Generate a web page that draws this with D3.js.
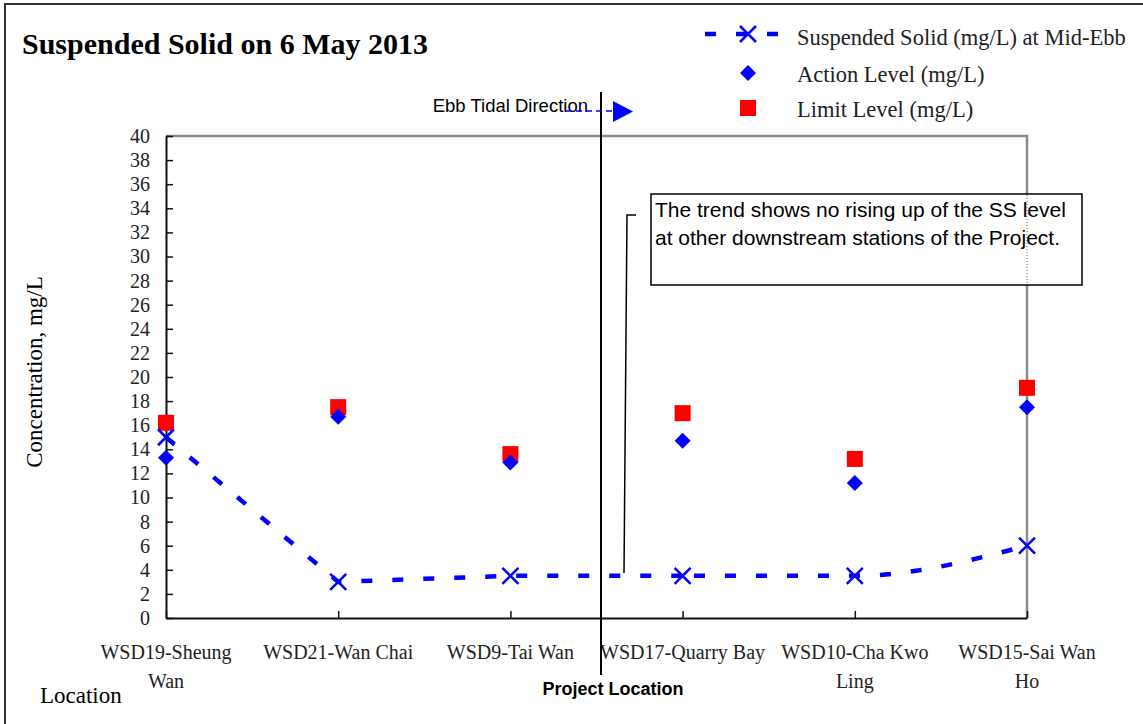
<!DOCTYPE html>
<html>
<head>
<meta charset="utf-8">
<script src="https://cdn.jsdelivr.net/npm/d3@7"></script>
<style>
  body { margin: 0; background: #fff; }
  svg { display: block; }
  .serif { font-family: "Liberation Serif", "Times New Roman", serif; }
  .sans { font-family: "Liberation Sans", Arial, sans-serif; }
</style>
</head>
<body>
<div id="chart"></div>
<script>
// data
const categories = ["WSD19-Sheung Wan", "WSD21-Wan Chai", "WSD9-Tai Wan",
                    "WSD17-Quarry Bay", "WSD10-Cha Kwo Ling", "WSD15-Sai Wan Ho"];
const catLabels = [["WSD19-Sheung", "Wan"], ["WSD21-Wan Chai"], ["WSD9-Tai Wan"],
                   ["WSD17-Quarry Bay"], ["WSD10-Cha Kwo", "Ling"], ["WSD15-Sai Wan", "Ho"]];
const ssValues = [15.0, 3.0, 3.5, 3.5, 3.5, 6.0];
const actionLevel = [13.3, 16.7, 12.9, 14.7, 11.2, 17.5];
const limitLevel = [16.2, 17.5, 13.6, 17.0, 13.2, 19.1];
const yTicks = d3.range(0, 41, 2);
const legendLabels = ["Suspended Solid (mg/L) at Mid-Ebb", "Action Level (mg/L)", "Limit Level (mg/L)"];

const W = 1143, H = 724;
const plot = {left: 166, right: 1027, top: 136, bottom: 618};

const svg = d3.select('#chart').append('svg')
  .attr('width', W)
  .attr('height', H);

// outer frame
svg.append('rect')
  .attr('x', 5).attr('y', 4)
  .attr('width', W + 20).attr('height', H + 20)
  .attr('fill', 'none')
  .attr('stroke', '#333')
  .attr('stroke-width', 2);

const x = d3.scalePoint().domain(categories).range([plot.left, plot.right]);
const y = d3.scaleLinear().domain([0, 40]).range([plot.bottom, plot.top]);

// gray top/right plot border
svg.append('path')
  .attr('d', `M${plot.left},${plot.top}H${plot.right}V${plot.bottom}`)
  .attr('fill', 'none')
  .attr('stroke', '#8c8c8c')
  .attr('stroke-width', 2.5);

// y axis
const yAxis = svg.append('g')
  .attr('transform', `translate(${plot.left},0)`)
  .call(d3.axisLeft(y).tickValues(yTicks).tickSizeInner(-7).tickSizeOuter(0).tickPadding(16));
yAxis.select('.domain').attr('stroke', '#111').attr('stroke-width', 2);
yAxis.selectAll('.tick line').attr('stroke', '#111').attr('stroke-width', 1.5);
yAxis.selectAll('.tick text')
  .attr('class', 'serif')
  .attr('font-size', 20)
  .attr('fill', '#222');

// x axis
const xAxis = svg.append('g')
  .attr('transform', `translate(0,${plot.bottom})`)
  .call(d3.axisBottom(x).tickSizeInner(-7).tickSizeOuter(0).tickFormat(''));
xAxis.select('.domain').attr('stroke', '#111').attr('stroke-width', 2);
xAxis.selectAll('.tick line').attr('stroke', '#111').attr('stroke-width', 1.5);

// category labels (wrapped)
const labelG = svg.append('g').attr('class', 'serif');
categories.forEach((c, i) => {
  const t = labelG.append('text')
    .attr('x', x(c))
    .attr('y', 659)
    .attr('text-anchor', 'middle')
    .attr('font-size', 20)
    .attr('fill', '#222');
  catLabels[i].forEach((ln, j) => {
    t.append('tspan').attr('x', x(c)).attr('dy', j === 0 ? 0 : 29).text(ln);
  });
});

// title
svg.append('text')
  .attr('class', 'serif')
  .attr('x', 22).attr('y', 54)
  .attr('font-size', 30)
  .attr('font-weight', 'bold')
  .text('Suspended Solid on 6 May 2013');

// axis titles
svg.append('text')
  .attr('class', 'serif')
  .attr('transform', 'translate(42,372) rotate(-90)')
  .attr('text-anchor', 'middle')
  .attr('font-size', 23)
  .text('Concentration, mg/L');

svg.append('text')
  .attr('class', 'serif')
  .attr('x', 40).attr('y', 703)
  .attr('font-size', 23)
  .text('Location');

// project location line
svg.append('line')
  .attr('x1', 601).attr('x2', 601)
  .attr('y1', 92).attr('y2', 675)
  .attr('stroke', '#000')
  .attr('stroke-width', 2);

svg.append('text')
  .attr('class', 'sans')
  .attr('x', 613).attr('y', 695)
  .attr('text-anchor', 'middle')
  .attr('font-size', 18)
  .attr('font-weight', 'bold')
  .text('Project Location');

// ebb tidal direction arrow
svg.append('text')
  .attr('class', 'sans')
  .attr('x', 588).attr('y', 112)
  .attr('text-anchor', 'end')
  .attr('font-size', 18.5)
  .text('Ebb Tidal Direction');

svg.append('line')
  .attr('x1', 566).attr('x2', 614)
  .attr('y1', 111).attr('y2', 111)
  .attr('stroke', '#0000ff')
  .attr('stroke-width', 1.5)
  .attr('stroke-dasharray', '6,4');

svg.append('path')
  .attr('d', 'M613,101L633,111.5L613,122Z')
  .attr('fill', '#0000ff');

// callout
svg.append('path')
  .attr('d', 'M624,573L627,215H636')
  .attr('fill', 'none')
  .attr('stroke', '#000')
  .attr('stroke-width', 1.5);

svg.append('rect')
  .attr('x', 651).attr('y', 194)
  .attr('width', 431).attr('height', 91)
  .attr('fill', '#fff')
  .attr('stroke', '#000')
  .attr('stroke-width', 1.5);

svg.append('line')
  .attr('x1', plot.right).attr('x2', plot.right)
  .attr('y1', 195).attr('y2', 284)
  .attr('stroke', '#999')
  .attr('stroke-width', 1.5)
  .attr('stroke-dasharray', '1,2');

const note = svg.append('text')
  .attr('class', 'sans')
  .attr('font-size', 21);
note.append('tspan').attr('x', 655).attr('y', 217).text('The trend shows no rising up of the SS level');
note.append('tspan').attr('x', 655).attr('y', 245).text('at other downstream stations of the Project.');

// SS line: straight through the first stations, smoothed at the end
const ssPts = ssValues.map((v, i) => [x(categories[i]), y(v)]);
const lineStraight = d3.line().curve(d3.curveLinear);
const lineSmooth = d3.line().curve(d3.curveMonotoneX);

const seg1 = svg.append('path')
  .attr('d', lineStraight(ssPts.slice(0, 4)))
  .attr('fill', 'none')
  .attr('stroke', '#0000ff')
  .attr('stroke-width', 4.5)
  .attr('stroke-dasharray', '11,20');

svg.append('path')
  .attr('d', lineSmooth(ssPts.slice(3)))
  .attr('fill', 'none')
  .attr('stroke', '#0000ff')
  .attr('stroke-width', 4.5)
  .attr('stroke-dasharray', '11,20')
  .attr('stroke-dashoffset', -seg1.node().getTotalLength());

const crossPath = 'M-8,-8L8,8M-8,8L8,-8';
const diamondPath = 'M0,-8L8,0L0,8L-8,0Z';

// limit level squares
svg.selectAll('.limit')
  .data(limitLevel)
  .enter()
  .append('rect')
  .attr('class', 'limit')
  .attr('x', (d, i) => x(categories[i]) - 8)
  .attr('y', d => y(d) - 8)
  .attr('width', 16).attr('height', 16)
  .attr('fill', '#ff0000');

// action level diamonds
svg.selectAll('.action')
  .data(actionLevel)
  .enter()
  .append('path')
  .attr('class', 'action')
  .attr('d', diamondPath)
  .attr('transform', (d, i) => `translate(${x(categories[i])},${y(d)})`)
  .attr('fill', '#0000ff');

// SS crosses
svg.selectAll('.ss')
  .data(ssValues)
  .enter()
  .append('path')
  .attr('class', 'ss')
  .attr('d', crossPath)
  .attr('transform', (d, i) => `translate(${x(categories[i])},${y(d)})`)
  .attr('fill', 'none')
  .attr('stroke', '#0000ff')
  .attr('stroke-width', 2.5);

// legend
const lg = svg.append('g');
lg.append('line')
  .attr('x1', 705).attr('x2', 778)
  .attr('y1', 34).attr('y2', 34)
  .attr('stroke', '#0000ff')
  .attr('stroke-width', 4.5)
  .attr('stroke-dasharray', '11,20');
lg.append('path')
  .attr('d', crossPath)
  .attr('transform', 'translate(748,34)')
  .attr('fill', 'none')
  .attr('stroke', '#0000ff')
  .attr('stroke-width', 2.5);
lg.append('path')
  .attr('d', diamondPath)
  .attr('transform', 'translate(748,73)')
  .attr('fill', '#0000ff');
lg.append('rect')
  .attr('x', 740).attr('y', 100)
  .attr('width', 16).attr('height', 16)
  .attr('fill', '#ff0000');

lg.selectAll('.legtext')
  .data(legendLabels)
  .enter()
  .append('text')
  .attr('class', 'serif')
  .attr('x', 797)
  .attr('y', (d, i) => [45, 82, 117][i])
  .attr('font-size', 22.5)
  .attr('fill', '#222')
  .text(d => d);
</script>
</body>
</html>
